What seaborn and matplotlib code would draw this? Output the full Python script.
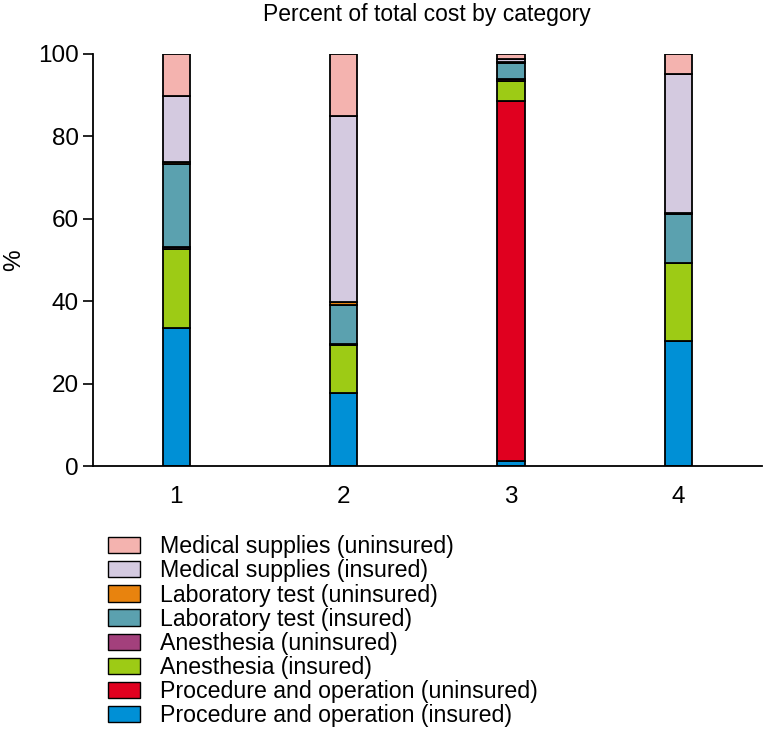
import numpy as np
import pandas as pd
import matplotlib
matplotlib.use("Agg")
import matplotlib.pyplot as plt
import seaborn as sns

sns.set_style("white")
plt.rcParams["font.family"] = ["Liberation Sans", "DejaVu Sans"]
plt.rcParams["text.color"] = "black"
plt.rcParams["axes.labelcolor"] = "black"
plt.rcParams["xtick.color"] = "black"
plt.rcParams["ytick.color"] = "black"

categories = ["1", "2", "3", "4"]

# stacking order, bottom to top
proc_insured = [33.5, 17.7, 1.2, 30.5]
proc_uninsured = [0.0, 0.0, 87.3, 0.0]
anes_insured = [19.2, 11.8, 5.0, 18.7]
anes_uninsured = [0.4, 0.1, 0.3, 0.2]
lab_insured = [20.2, 9.6, 4.0, 11.7]
lab_uninsured = [0.4, 0.6, 0.2, 0.4]
med_insured = [16.0, 45.2, 0.7, 33.6]
med_uninsured = [10.3, 15.0, 1.3, 4.8]

layers = [
    ("Procedure and operation (insured)", proc_insured, "#0090D6"),
    ("Procedure and operation (uninsured)", proc_uninsured, "#E0001F"),
    ("Anesthesia (insured)", anes_insured, "#9DCB15"),
    ("Anesthesia (uninsured)", anes_uninsured, "#A3407C"),
    ("Laboratory test (insured)", lab_insured, "#5BA1AF"),
    ("Laboratory test (uninsured)", lab_uninsured, "#E8830E"),
    ("Medical supplies (insured)", med_insured, "#D4CAE0"),
    ("Medical supplies (uninsured)", med_uninsured, "#F4B3AF"),
]

fig = plt.figure(figsize=(7.65, 7.56), dpi=100)
ax = fig.add_axes([0.121, 0.383, 0.875, 0.546])

bottom = np.zeros(len(categories))
handles = []
for name, vals, col in layers:
    df = pd.DataFrame({"cat": categories, "val": vals})
    sns.barplot(data=df, x="cat", y="val", bottom=bottom, color=col,
                width=0.164, edgecolor="black", linewidth=1.3, ax=ax,
                saturation=1, errorbar=None)
    handles.append(plt.Rectangle((0, 0), 1, 1, facecolor=col, edgecolor="black", linewidth=1.0))
    bottom = bottom + np.array(vals)

ax.set_xlim(-0.5, 3.5)
ax.set_ylim(0, 100)
ax.set_yticks([0, 20, 40, 60, 80, 100])
ax.set_xticks([-0.5, 0.5, 1.5, 2.5, 3.5], minor=True)
ax.tick_params(axis="x", which="major", length=0, labelsize=17.5, pad=14)
ax.tick_params(axis="x", which="minor", length=7, width=1.2, direction="out")
ax.tick_params(axis="y", length=7, width=1.2, direction="out", labelsize=17.5, pad=3, left=True)
ax.set_xlabel("")
ax.set_ylabel("%", fontsize=17.5, labelpad=9)
sns.despine(ax=ax)
for s in ["left", "bottom"]:
    ax.spines[s].set_linewidth(1.3)
    ax.spines[s].set_color("black")

fig.text(0.558, 0.981, "Percent of total cost by category", ha="center", va="center", fontsize=16.5)

fig.legend(handles[::-1], [l[0] for l in layers][::-1], loc="upper left",
           bbox_to_anchor=(0.141, 0.292), frameon=False, fontsize=16.7,
           handlelength=1.4, handleheight=0.7, labelspacing=0.05, handletextpad=0.86,
           borderpad=0, borderaxespad=0)

fig.savefig("out.png", dpi=100)
